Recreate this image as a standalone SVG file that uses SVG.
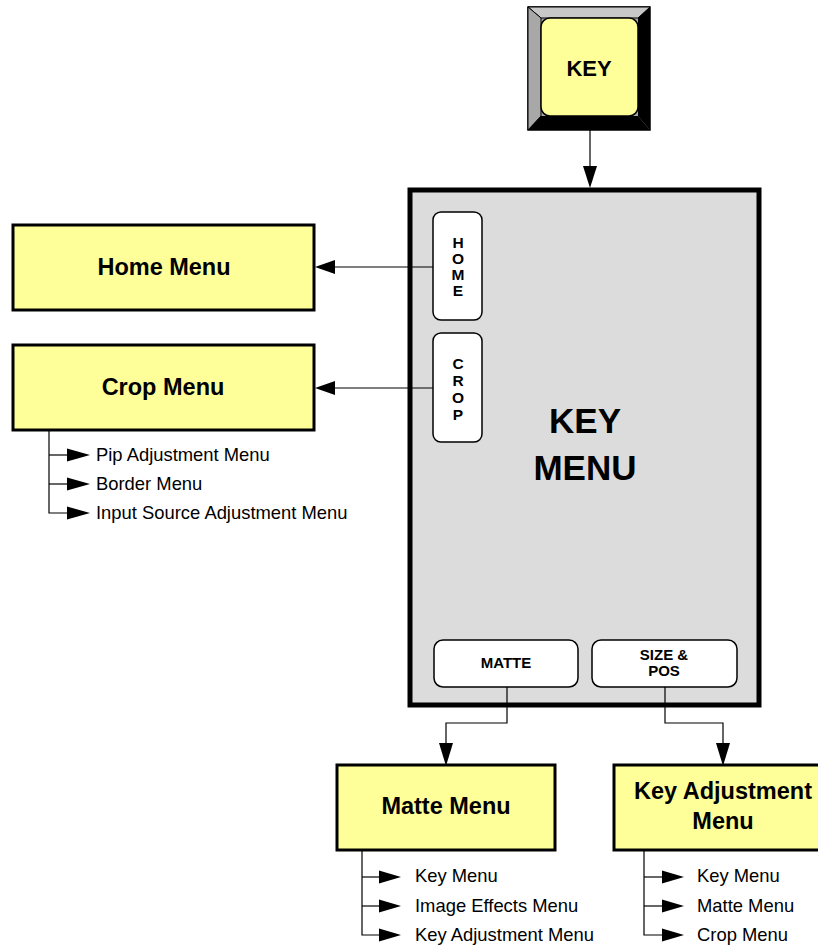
<svg xmlns="http://www.w3.org/2000/svg" width="818" height="946" viewBox="0 0 818 946">
<defs>
<style>
.bold{font-family:"Liberation Sans",Arial,sans-serif;font-weight:bold;fill:#000;text-anchor:middle}
.reg{font-family:"Liberation Sans",Arial,sans-serif;font-size:18.4px;fill:#000}
.box{fill:#ffff99;stroke:#000;stroke-width:3}
.btn{fill:#fff;stroke:#000;stroke-width:1.5}
.ln{fill:none;stroke:#000;stroke-width:1.2}
.ah{fill:#000;stroke:none}
</style>
</defs>
<rect width="818" height="946" fill="#fff"/>

<g id="key-button">
<rect x="528" y="7" width="122" height="123" fill="#a8a8a8" stroke="#000" stroke-width="1.5"/>
<polygon points="528,7 650,7 638,18 541,18" fill="#c8c8c8" stroke="#000" stroke-width="1"/>
<polygon points="528,7 541,18 541,116 528,130" fill="#a8a8a8" stroke="#000" stroke-width="1"/>
<polygon points="650,7 650,130 638,116 638,18" fill="#000"/>
<polygon points="528,130 650,130 638,116 541,116" fill="#000"/>
<rect x="541" y="18" width="97" height="98" rx="9" fill="#ffff99" stroke="#000" stroke-width="1.5"/>
<text class="bold" x="589" y="76" font-size="22">KEY</text>
</g>

<g id="key-menu">
<rect x="410" y="190" width="349" height="515" fill="#dcdcdc" stroke="#000" stroke-width="5"/>
<text class="bold" x="585" y="433" font-size="35">KEY</text>
<text class="bold" x="585" y="480" font-size="35">MENU</text>
</g>

<g id="home-btn">
<rect class="btn" x="433" y="212" width="49" height="108" rx="8"/>
<text class="bold" font-size="15.5" x="458" y="248">H</text>
<text class="bold" font-size="15.5" x="458" y="264">O</text>
<text class="bold" font-size="15.5" x="458" y="280">M</text>
<text class="bold" font-size="15.5" x="458" y="296">E</text>
</g>

<g id="crop-btn">
<rect class="btn" x="433" y="333" width="49" height="109" rx="8"/>
<text class="bold" font-size="15.5" x="458" y="369">C</text>
<text class="bold" font-size="15.5" x="458" y="386">R</text>
<text class="bold" font-size="15.5" x="458" y="403">O</text>
<text class="bold" font-size="15.5" x="458" y="420">P</text>
</g>

<g id="matte-btn">
<rect class="btn" x="434" y="640" width="144" height="47" rx="9"/>
<text class="bold" font-size="15" x="506" y="668">MATTE</text>
</g>

<g id="sizepos-btn">
<rect class="btn" x="592" y="640" width="145" height="47" rx="9"/>
<text class="bold" font-size="15" x="664" y="660">SIZE &amp;</text>
<text class="bold" font-size="15" x="664" y="676">POS</text>
</g>

<g id="home-menu">
<rect class="box" x="13" y="225" width="301" height="85"/>
<text class="bold" font-size="23.5" x="164" y="275">Home Menu</text>
</g>

<g id="crop-menu">
<rect class="box" x="13" y="345" width="301" height="85"/>
<text class="bold" font-size="23.5" x="163" y="395">Crop Menu</text>
</g>

<g id="matte-menu">
<rect class="box" x="337" y="765" width="218" height="85"/>
<text class="bold" font-size="23.5" x="446" y="814">Matte Menu</text>
</g>

<g id="key-adjustment-menu">
<rect class="box" x="614" y="765" width="218" height="85"/>
<text class="bold" font-size="23.5" x="723" y="799">Key Adjustment</text>
<text class="bold" font-size="23.5" x="723" y="829">Menu</text>
</g>

<g id="crop-sublist">
<text class="reg" x="96" y="461">Pip Adjustment Menu</text>
<text class="reg" x="96" y="490">Border Menu</text>
<text class="reg" x="96" y="519">Input Source Adjustment Menu</text>
</g>
<g id="matte-sublist">
<text class="reg" x="415" y="882">Key Menu</text>
<text class="reg" x="415" y="912">Image Effects Menu</text>
<text class="reg" x="415" y="941">Key Adjustment Menu</text>
</g>
<g id="keyadj-sublist">
<text class="reg" x="697" y="882">Key Menu</text>
<text class="reg" x="697" y="912">Matte Menu</text>
<text class="reg" x="697" y="941">Crop Menu</text>
</g>

<g id="connectors">
<line class="ln" x1="590" y1="130" x2="590" y2="168"/>
<polygon class="ah" points="583,166 597,166 590,188"/>

<line class="ln" x1="433" y1="267" x2="333" y2="267"/>
<polygon class="ah" points="315,267 335,260 335,274"/>
<line class="ln" x1="433" y1="388" x2="333" y2="388"/>
<polygon class="ah" points="315,388 335,381 335,395"/>

<polyline class="ln" points="507,687 507,723 446,723 446,745"/>
<polygon class="ah" points="439,743 453,743 446,766"/>
<polyline class="ln" points="665,687 665,723 723,723 723,745"/>
<polygon class="ah" points="716,743 730,743 723,766"/>

<polyline class="ln" points="49,430 49,513 70,513"/>
<line class="ln" x1="49" y1="455" x2="70" y2="455"/>
<line class="ln" x1="49" y1="484" x2="70" y2="484"/>
<polygon class="ah" points="67,448.5 90,455 67,461.5"/>
<polygon class="ah" points="67,477.5 90,484 67,490.5"/>
<polygon class="ah" points="67,506.5 90,513 67,519.5"/>

<polyline class="ln" points="362,850 362,935 382,935"/>
<line class="ln" x1="362" y1="877" x2="382" y2="877"/>
<line class="ln" x1="362" y1="906" x2="382" y2="906"/>
<polygon class="ah" points="379,870.5 401,877 379,883.5"/>
<polygon class="ah" points="379,899.5 401,906 379,912.5"/>
<polygon class="ah" points="379,928.5 401,935 379,941.5"/>

<polyline class="ln" points="644,850 644,935 665,935"/>
<line class="ln" x1="644" y1="877" x2="665" y2="877"/>
<line class="ln" x1="644" y1="906" x2="665" y2="906"/>
<polygon class="ah" points="662,870.5 684,877 662,883.5"/>
<polygon class="ah" points="662,899.5 684,906 662,912.5"/>
<polygon class="ah" points="662,928.5 684,935 662,941.5"/>
</g>
</svg>
